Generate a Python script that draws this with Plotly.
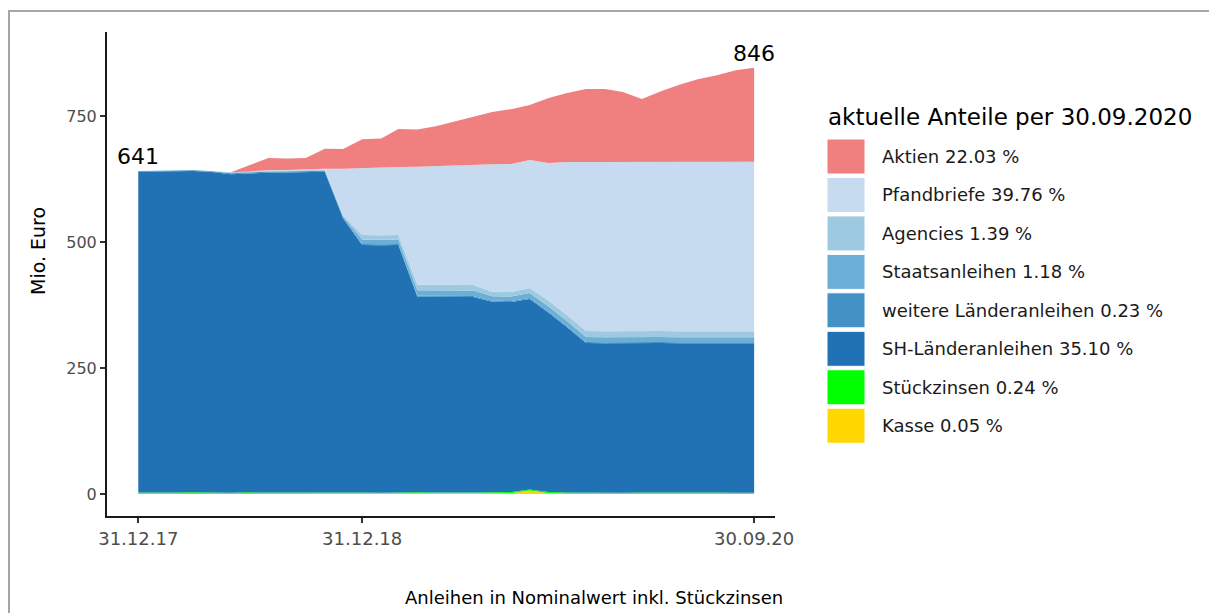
import pandas as pd
import plotly.graph_objects as go

# month-end dates 31.12.17 .. 30.09.20
dates = pd.date_range("2018-01-01", "2020-10-01", freq="MS") - pd.Timedelta(days=1)

kasse = [0.4, 0.4, 0.4, 0.4, 0.4, 0.4, 0.4, 0.4, 0.4, 0.4, 0.4, 0.4, 0.4, 0.4, 0.4, 0.4, 0.4,
         0.4, 0.4, 0.4, 1.5, 7.0, 1.5, 0.4, 0.4, 0.4, 0.4, 0.4, 0.4, 0.4, 0.4, 0.4, 0.4, 0.4]
stueckzinsen = [2.5, 2.0, 2.8, 3.2, 2.6, 2.2, 2.9, 3.3, 2.7, 2.4, 3.0, 3.4, 2.8, 2.3, 2.9, 3.2, 2.6,
                2.1, 2.7, 3.0, 2.4, 2.0, 2.5, 2.8, 2.3, 1.9, 2.3, 2.6, 2.2, 1.9, 2.2, 2.4, 2.1, 2.0]
sh_laender = [636.6, 637, 637.5, 637.5, 636, 632, 633, 634, 635, 636, 636, 543, 491, 491, 491, 388, 388,
              388, 388, 378, 377, 378, 356, 328, 297, 297, 297, 297, 297, 297, 297, 297, 297, 297]
weitere_laender = [1.5, 1.5, 1.5, 1.5, 1.5, 2, 2, 2, 2, 2, 2, 2, 2, 2, 2, 2, 2,
                   2, 2, 2, 2, 2, 2, 2, 2, 2, 2, 2, 2, 2, 2, 2, 1.9, 1.9]
staatsanleihen = [0, 0, 0, 0, 0, 1, 1, 1, 1, 1, 1, 2, 9, 9, 9, 11, 11,
                  11, 11, 9, 9, 10, 10, 10, 10, 10, 10, 10, 10, 10, 10, 10, 10, 10]
agencies = [0, 0, 0, 0, 0, 1, 1, 1, 1, 1, 1, 2, 9, 9, 9, 11, 11,
            11, 11, 9, 9, 10, 11.8, 11.8, 11.8, 11.8, 11.8, 11.8, 11.8, 11.8, 11.8, 11.8, 11.8, 11.8]
pfandbriefe = [0, 0, 0, 0, 0, 0, 0, 1, 1, 2, 2, 93, 133, 134, 135, 234, 236,
               237, 238, 253, 254, 254, 273, 304, 335.5, 336, 335.5, 335, 336.6, 337, 336.6, 336.4, 335.7, 336.4]
aktien = [0, 0, 0, 0, 0, 0, 12, 24, 23, 22, 40, 39, 57, 58, 75, 74, 79,
          88, 96, 104, 109, 109, 129, 137, 145, 145, 139, 125, 139, 152, 163, 171, 182, 186.4]

series = [
    ("Kasse 0.05 %", kasse, "#FFD700"),
    ("Stückzinsen 0.24 %", stueckzinsen, "#00FF00"),
    ("SH-Länderanleihen 35.10 %", sh_laender, "#2171B5"),
    ("weitere Länderanleihen 0.23 %", weitere_laender, "#4292C6"),
    ("Staatsanleihen 1.18 %", staatsanleihen, "#6BAED6"),
    ("Agencies 1.39 %", agencies, "#9ECAE1"),
    ("Pfandbriefe 39.76 %", pfandbriefe, "#C6DBEF"),
    ("Aktien 22.03 %", aktien, "#F08080"),
]

tick_vals = ["2017-12-31", "2018-12-31", "2020-09-30"]
tick_text = ["31.12.17", "31.12.18", "30.09.20"]

font = "DejaVu Sans"
OFF = 8  # page margin of the browser
W, H = 1217 - OFF, 613 - OFF
L, R, T, B = 107, 775, 32, 516  # plot area, screen pixels


def px_x(p):
    return (p - L) / (R - L)


def px_y(p):
    return (B - p) / (B - T)


fig = go.Figure()
for name, vals, col in series:
    fig.add_trace(go.Scatter(x=dates, y=vals, name=name, stackgroup="one", mode="lines",
                             line=dict(width=0, color=col), fillcolor=col, showlegend=False))

totals = [sum(s[1][i] for s in series) for i in range(len(dates))]

shapes = [dict(type="rect", xref="paper", yref="paper", x0=px_x(9), x1=px_x(1212),
               y0=px_y(660), y1=px_y(11), line=dict(color="#A6A6A6", width=2), layer="below")]
annotations = [
    dict(x=dates[0], y=totals[0], text=str(round(totals[0])), showarrow=False, yanchor="bottom",
         xanchor="center", font=dict(family=font, size=22, color="black")),
    dict(x=dates[-1], y=totals[-1], text=str(round(totals[-1])), showarrow=False, yanchor="bottom",
         xanchor="center", font=dict(family=font, size=22, color="black")),
    dict(x=px_x(38), y=px_y(251), xref="paper", yref="paper", text="Mio. Euro", textangle=-90,
         xanchor="center", yanchor="middle", showarrow=False,
         font=dict(family=font, size=19, color="black")),
    dict(x=px_x(594), y=px_y(597), xref="paper", yref="paper",
         text="Anleihen in Nominalwert inkl. Stückzinsen", showarrow=False,
         xanchor="center", yanchor="middle", font=dict(family=font, size=18, color="black")),
    dict(x=px_x(826), y=px_y(117), xref="paper", yref="paper", xanchor="left", yanchor="middle",
         text="aktuelle Anteile per 30.09.2020", showarrow=False,
         font=dict(family=font, size=23, color="black")),
]

# legend, top to bottom = stack order top to bottom
for i, (name, vals, col) in enumerate(reversed(series)):
    cy = 156.5 + 38.46 * i
    shapes.append(dict(type="rect", xref="paper", yref="paper", x0=px_x(827), x1=px_x(865),
                       y0=px_y(cy + 17.5), y1=px_y(cy - 17.5), fillcolor=col,
                       line=dict(color="white", width=1)))
    annotations.append(dict(x=px_x(880), y=px_y(cy), xref="paper", yref="paper", xanchor="left",
                            yanchor="middle", text=name, showarrow=False,
                            font=dict(family=font, size=18, color="#1A1A1A")))

fig.update_layout(
    width=W, height=H,
    margin=dict(l=L - OFF, r=W - (R - OFF), t=T - OFF, b=H - (B - OFF)),
    paper_bgcolor="white", plot_bgcolor="white",
    font=dict(family=font, size=16, color="#4D4D4D"),
    shapes=shapes, annotations=annotations,
    xaxis=dict(type="date", range=["2017-11-10", "2020-11-03"], tickvals=tick_vals,
               ticktext=tick_text, showgrid=False, zeroline=False, showline=True,
               linecolor="#1A1A1A", linewidth=2, ticks="outside", ticklen=5,
               tickcolor="#333333", tickwidth=1.5, tickfont=dict(size=18, color="#4D4D4D")),
    yaxis=dict(range=[-43.6, 917], tickvals=[0, 250, 500, 750], showgrid=False, zeroline=False,
               showline=True, linecolor="#1A1A1A", linewidth=2, ticks="outside", ticklen=5,
               tickcolor="#333333", tickwidth=1.5, tickfont=dict(size=16, color="#4D4D4D")),
)

fig.write_html("out.html")
